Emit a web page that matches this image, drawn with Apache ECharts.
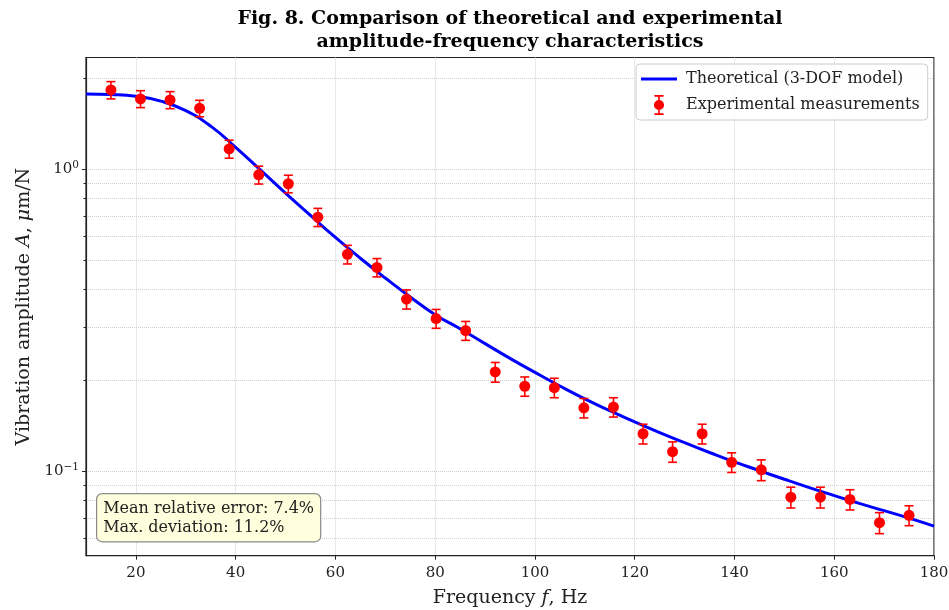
<!DOCTYPE html>
<html>
<head>
<meta charset="utf-8">
<script src="https://cdn.jsdelivr.net/npm/echarts@6/dist/echarts.min.js"></script>
<style>html,body{margin:0;padding:0;background:#fff}#c{width:949px;height:610px}</style>
</head>
<body>
<div id="c"></div>
<script>
// Experimental measurements (frequency Hz, amplitude µm/N, error)
const expFreq = [15.0, 20.93, 26.85, 32.78, 38.70, 44.63, 50.56, 56.48, 62.41, 68.33, 74.26, 80.19, 86.11, 92.04,
  97.96, 103.89, 109.81, 115.74, 121.67, 127.59, 133.52, 139.44, 145.37, 151.30, 157.22, 163.15, 169.07, 175.0];
const expAmp = [1.827, 1.707, 1.694, 1.589, 1.166, 0.957, 0.894, 0.693, 0.522, 0.4725, 0.371, 0.320, 0.292, 0.213,
  0.191, 0.189, 0.162, 0.163, 0.133, 0.116, 0.133, 0.107, 0.101, 0.082, 0.082, 0.0806, 0.0675, 0.0714];
const expErr = [0.12, 0.11, 0.11, 0.10, 0.08, 0.065, 0.06, 0.048, 0.037, 0.033, 0.027, 0.023, 0.021, 0.016,
  0.014, 0.014, 0.012, 0.012, 0.010, 0.009, 0.010, 0.008, 0.008, 0.0065, 0.0065, 0.0062, 0.0054, 0.0054];
// Theoretical curve (3-DOF model)
const theoFreq = [10, 15, 20, 25, 30, 35, 40, 45, 50, 55, 60, 65, 70, 75, 80, 85, 90, 95, 100, 105, 110, 115,
  120, 125, 130, 135, 140, 145, 150, 155, 160, 165, 170, 175, 180];
const theoAmp = [1.773, 1.766, 1.742, 1.678, 1.561, 1.387, 1.180, 0.9917, 0.8324, 0.7021, 0.5937, 0.5068, 0.4359,
  0.3772, 0.3294, 0.2961, 0.2643, 0.2363, 0.2123, 0.1913, 0.1734, 0.1586, 0.1455, 0.1341, 0.1242, 0.1153,
  0.1073, 0.1004, 0.0940, 0.0882, 0.0830, 0.0782, 0.0740, 0.0699, 0.0658];
// Ticks
const xTicks = [20, 40, 60, 80, 100, 120, 140, 160, 180];
const yMajorTicks = [0.1, 1];
const yAllTicks = [0.06, 0.07, 0.08, 0.09, 0.1, 0.2, 0.3, 0.4, 0.5, 0.6, 0.7, 0.8, 0.9, 1, 2];
const seriesNames = ['Theoretical (3-DOF model)', 'Experimental measurements'];
const titleText = 'Fig. 8. Comparison of theoretical and experimental\namplitude-frequency characteristics';
const noteText = 'Mean relative error: 7.4%\nMax. deviation: 11.2%';

const SERIF = '"DejaVu Serif", serif';
const chart = echarts.init(document.getElementById('c'), null, {renderer: 'canvas'});
const lineData = theoFreq.map((f, i) => [f, theoAmp[i]]);
const expData = expFreq.map((f, i) => [f, expAmp[i], expErr[i]]);
const yMin = 0.0525, yMax = 2.34;

const lineIcon = 'path://M0,0L36,0L36,3L0,3Z';
const ebIcon = 'path://M-5,0A5,5 0 1,1 5,0A5,5 0 1,1 -5,0Z M-0.8,-9L0.8,-9L0.8,9L-0.8,9Z M-4.5,-9.8L4.5,-9.8L4.5,-8.2L-4.5,-8.2Z M-4.5,8.2L4.5,8.2L4.5,9.8L-4.5,9.8Z';

chart.setOption({
  animation: false,
  title: {
    text: titleText, left: 505, top: 3, textAlign: 'center',
    textStyle: {fontFamily: SERIF, fontWeight: 'bold', fontSize: 19, lineHeight: 22.5, color: '#000'}
  },
  grid: {left: 86, right: 15, top: 57.5, bottom: 54.3, outerBoundsMode: 'none', containLabel: false,
    show: true, borderColor: '#222', borderWidth: 1.2, backgroundColor: 'transparent'},
  legend: {
    orient: 'vertical', left: 636, top: 64,
    backgroundColor: 'rgba(255,255,255,0.85)', borderColor: '#cccccc', borderWidth: 1, borderRadius: 4,
    padding: [7, 8, 5, 5], itemWidth: 36, itemHeight: 20, itemGap: 8,
    textStyle: {fontFamily: SERIF, fontSize: 16, color: '#222', padding: [0, 0, 0, 4]},
    data: [{name: seriesNames[0], icon: lineIcon}, {name: seriesNames[1], icon: ebIcon}]
  },
  xAxis: {
    type: 'value', min: 10, max: 180,
    name: '{n|Frequency }{i|f}{n|, Hz}', nameLocation: 'middle', nameGap: 33,
    nameTextStyle: {rich: {n: {fontFamily: SERIF, fontSize: 19, color: '#222'}, i: {fontFamily: SERIF, fontSize: 19, fontStyle: 'italic', color: '#222'}}},
    axisLine: {show: true, lineStyle: {color: '#222', width: 1.2}},
    axisTick: {show: true, length: 4, customValues: xTicks, lineStyle: {color: '#222'}},
    axisLabel: {customValues: xTicks, fontFamily: SERIF, fontSize: 15, color: '#222', margin: 10},
    splitLine: {show: true, lineStyle: {color: '#d0d0d0', type: 'dotted', width: 1}}
  },
  yAxis: [{
    type: 'log', logBase: 10, min: yMin, max: yMax,
    name: '{n|Vibration amplitude }{i|A}{n|, }{i|μ}{n|m/N}', nameLocation: 'middle', nameGap: 52,
    nameTextStyle: {rich: {n: {fontFamily: SERIF, fontSize: 19, color: '#222'}, i: {fontFamily: SERIF, fontSize: 19, fontStyle: 'italic', color: '#222'}}},
    axisLine: {show: true, lineStyle: {color: '#222', width: 1.2}},
    axisTick: {show: true, length: 2.5, customValues: yAllTicks, lineStyle: {color: '#222'}},
    axisLabel: {show: false},
    splitLine: {show: true, lineStyle: {color: '#d0d0d0', type: 'dotted', width: 1}}
  }, {
    type: 'log', logBase: 10, min: yMin, max: yMax, position: 'left',
    axisLine: {show: false},
    axisTick: {show: true, length: 4, customValues: yMajorTicks, lineStyle: {color: '#222'}},
    axisLabel: {
      customValues: yMajorTicks, margin: 7,
      formatter: v => (v >= 1 ? '{b|10}{s|0}' : '{b|10}{s|−1}'),
      rich: {b: {fontFamily: SERIF, fontSize: 15, color: '#222'}, s: {fontFamily: SERIF, fontSize: 10.5, color: '#222', padding: [0, 0, 8, 0]}}
    },
    splitLine: {show: false}
  }],
  graphic: [{
    type: 'text', left: 96, top: 493, z: 100,
    style: {
      text: noteText, font: '16px "DejaVu Serif"', fill: '#222', lineHeight: 19,
      backgroundColor: '#ffffdd', borderColor: '#8a8a8a', borderWidth: 1.2, borderRadius: 5, padding: [5, 6, 4, 6]
    }
  }],
  series: [{
    name: seriesNames[0], type: 'line', data: lineData, smooth: true, showSymbol: false, symbol: 'none',
    lineStyle: {color: '#0000ff', width: 3}, itemStyle: {color: '#0000ff'}, z: 2
  }, {
    name: seriesNames[1], type: 'custom', data: expData, encode: {x: 0, y: 1}, z: 3,
    itemStyle: {color: '#ff0000'},
    renderItem: (params, api) => {
      const x = api.value(0), y = api.value(1), e = api.value(2);
      const top = api.coord([x, y + e]), bot = api.coord([x, y - e]);
      const cw = 4.5, st = {stroke: '#ff0000', lineWidth: 1.6};
      return {type: 'group', children: [
        {type: 'line', shape: {x1: top[0], y1: top[1], x2: bot[0], y2: bot[1]}, style: st},
        {type: 'line', shape: {x1: top[0] - cw, y1: top[1], x2: top[0] + cw, y2: top[1]}, style: st},
        {type: 'line', shape: {x1: bot[0] - cw, y1: bot[1], x2: bot[0] + cw, y2: bot[1]}, style: st}
      ]};
    }
  }, {
    name: seriesNames[1], type: 'scatter', data: expData.map(d => [d[0], d[1]]), symbol: 'circle', symbolSize: 11,
    itemStyle: {color: '#ff0000', opacity: 1}, z: 4
  }]
});
</script>
</body>
</html>
